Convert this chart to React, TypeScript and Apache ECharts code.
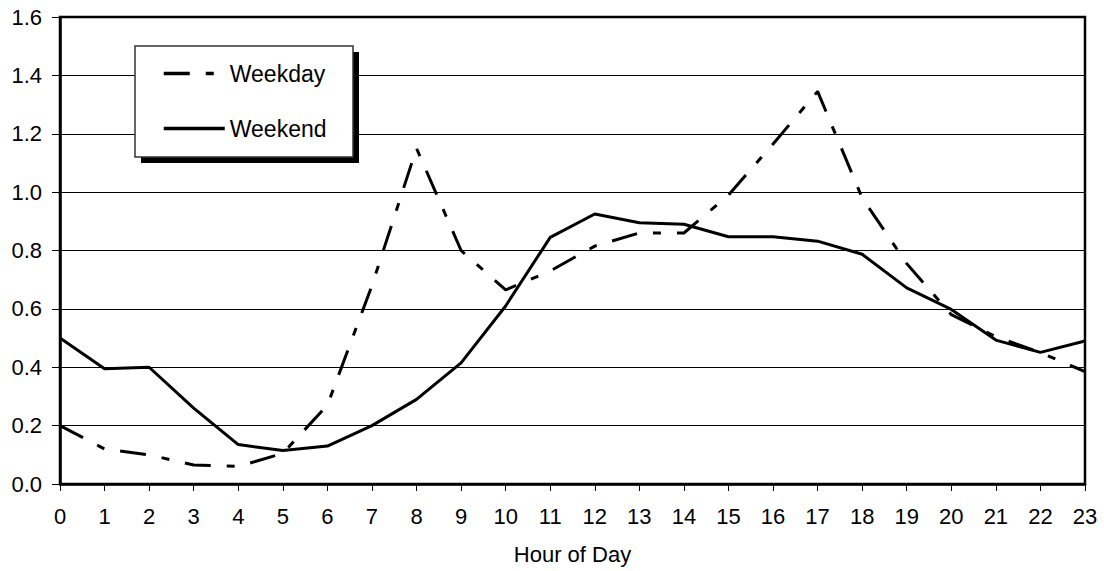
import React, { useEffect, useRef } from "react";
import * as echarts from "echarts";

const FONT = "'Liberation Sans', Arial, sans-serif";

const hours = ["0", "1", "2", "3", "4", "5", "6", "7", "8", "9", "10", "11", "12", "13", "14", "15", "16", "17", "18", "19", "20", "21", "22", "23"];

const weekday = [0.2, 0.12, 0.1, 0.065, 0.06, 0.105, 0.27, 0.68, 1.15, 0.8, 0.665, 0.73, 0.815, 0.86, 0.86, 0.99, 1.165, 1.345, 0.98, 0.755, 0.58, 0.505, 0.45, 0.385];

const weekend = [0.5, 0.395, 0.4, 0.26, 0.135, 0.115, 0.13, 0.2, 0.29, 0.415, 0.61, 0.845, 0.925, 0.895, 0.89, 0.847, 0.847, 0.832, 0.787, 0.672, 0.598, 0.493, 0.451, 0.49];

const seriesNames = ["Weekday", "Weekend"];

export default function App() {
  const ref = useRef<HTMLDivElement>(null);

  useEffect(() => {
    if (!ref.current) return;
    const chart = echarts.init(ref.current, null, { renderer: "svg" });
    const option: any = {
      animation: false,
      backgroundColor: "#ffffff",
      textStyle: { fontFamily: FONT },
      grid: {
        left: 60,
        right: 19,
        top: 17,
        bottom: 87,
        show: true,
        borderColor: "#000",
        borderWidth: 2.5,
        backgroundColor: "transparent",
      },
      xAxis: {
        type: "category",
        data: hours,
        boundaryGap: false,
        axisLine: { lineStyle: { color: "#000", width: 2.5 } },
        axisTick: { show: true, interval: 0, length: 7, lineStyle: { color: "#000", width: 1 } },
        axisLabel: { interval: 0, color: "#000", fontSize: 22, margin: 21, fontFamily: FONT },
        splitLine: { show: false },
        name: "Hour of Day",
        nameLocation: "middle",
        nameGap: 59,
        nameTextStyle: { color: "#000", fontSize: 22, fontFamily: FONT },
      },
      yAxis: {
        type: "value",
        min: 0,
        max: 1.6,
        interval: 0.2,
        axisLine: { show: true, lineStyle: { color: "#000", width: 2.5 } },
        axisTick: { show: true, length: 8, lineStyle: { color: "#000", width: 1 } },
        axisLabel: {
          color: "#000",
          fontSize: 22,
          margin: 18,
          fontFamily: FONT,
          formatter: (v: number) => v.toFixed(1),
        },
        splitLine: { show: true, lineStyle: { color: "#000", width: 1 } },
      },
      legend: {
        data: seriesNames,
        orient: "vertical",
        left: 162,
        top: 62,
        padding: 0,
        itemWidth: 61,
        itemHeight: 14,
        itemGap: 32,
        z: 6,
        itemStyle: { opacity: 0 },
        lineStyle: { width: 3.5 },
        textStyle: { color: "#000", fontSize: 23, lineHeight: 22, fontFamily: FONT },
      },
      graphic: [
        {
          type: "rect",
          z: 4,
          shape: { x: 141, y: 52, width: 218, height: 111 },
          style: { fill: "#000" },
        },
        {
          type: "rect",
          z: 5,
          shape: { x: 135, y: 46, width: 218, height: 111 },
          style: { fill: "#fff", stroke: "#333", lineWidth: 1.5 },
        },
      ],
      series: [
        {
          name: seriesNames[0],
          type: "line",
          data: weekday,
          symbol: "none",
          color: "#000",
          lineStyle: { color: "#000", width: 3, type: [26, 16, 8, 16], cap: "butt" },
        },
        {
          name: seriesNames[1],
          type: "line",
          data: weekend,
          symbol: "none",
          color: "#000",
          lineStyle: { color: "#000", width: 3, type: "solid" },
        },
      ],
    };
    chart.setOption(option);
    return () => chart.dispose();
  }, []);

  return (
    <div
      ref={ref}
      style={{ position: "absolute", left: 0, top: 0, width: 1104, height: 571, background: "#fff" }}
    />
  );
}
